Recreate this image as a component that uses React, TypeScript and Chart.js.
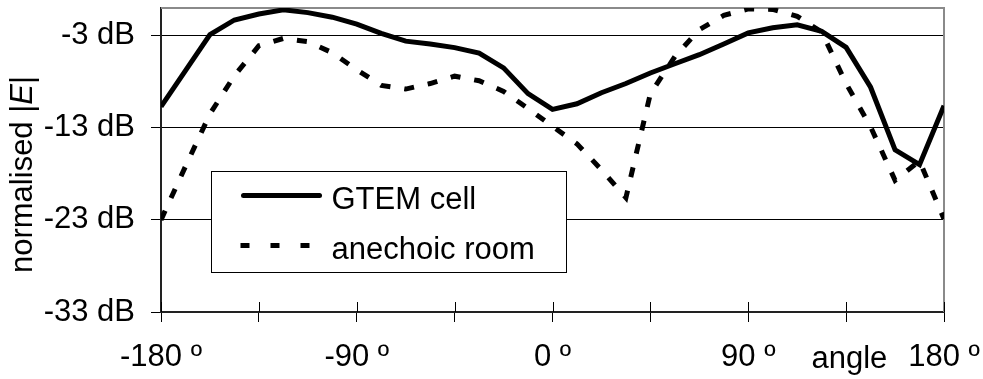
import React, { useEffect, useRef } from 'react';
import { Chart, registerables } from 'chart.js';

Chart.register(...registerables);

const angles = [
  -180, -168.75, -157.5, -146.25, -135, -123.75, -112.5, -101.25, -90, -78.75, -67.5,
  -56.25, -45, -33.75, -22.5, -11.25, 0, 11.25, 22.5, 33.75, 45, 56.25, 67.5, 78.75,
  90, 101.25, 112.5, 123.75, 135, 146.25, 157.5, 168.75, 180,
];

const gtemCell = [
  -10.7, -6.8, -2.9, -1.3, -0.65, -0.2, -0.5, -1.0, -1.75, -2.75, -3.6,
  -3.9, -4.3, -4.9, -6.5, -9.3, -11.0, -10.4, -9.2, -8.2, -7.05, -6.05, -5.07, -3.9,
  -2.7, -2.15, -1.83, -2.53, -4.27, -8.6, -15.4, -17.0, -10.6,
];

const anechoicRoom = [
  -23.0, -17.2, -11.5, -7.35, -4.1, -3.3, -3.65, -4.85, -6.7, -8.4, -8.8,
  -8.2, -7.4, -7.9, -9.05, -10.9, -12.85, -14.75, -17.55, -20.6, -9.3, -5.28, -2.35, -0.8,
  -0.1, -0.15, -0.9, -2.6, -8.2, -12.9, -18.7, -16.6, -22.9,
];

const seriesNames = ['GTEM cell', 'anechoic room'];
const yTickValues = [-33, -23, -13, -3];
const xTickValues = [-180, -135, -90, -45, 0, 45, 90, 135, 180];
const xLabelValues = [-180, -90, 0, 90, 180];
const yTitleParts = ['normalised |', 'E', '|'];
const xTitle = 'angle';

const FAMILY = '"Liberation Sans", Arial, sans-serif';

const decorPlugin = {
  id: 'decor',
  beforeDatasetsDraw(chart: any) {
    const { ctx, chartArea: ca } = chart;
    const xs = chart.scales.x;
    ctx.save();
    // gray top & right frame
    ctx.strokeStyle = '#8a8a8a';
    ctx.lineWidth = 2;
    ctx.beginPath();
    ctx.moveTo(ca.left, ca.top);
    ctx.lineTo(ca.right, ca.top);
    ctx.lineTo(ca.right, ca.bottom);
    ctx.stroke();
    // inner part of x tick marks
    ctx.strokeStyle = '#000';
    ctx.lineWidth = 1;
    xTickValues.forEach((v) => {
      const px = Math.round(xs.getPixelForValue(v)) + 0.5;
      ctx.beginPath();
      ctx.moveTo(px, ca.bottom - 10);
      ctx.lineTo(px, ca.bottom);
      ctx.stroke();
    });
    // legend box
    const bx = ca.left + 50.5;
    const by = ca.top + 163.5;
    const bw = 355;
    const bh = 101;
    ctx.fillStyle = '#fff';
    ctx.fillRect(bx, by, bw, bh);
    ctx.strokeStyle = '#000';
    ctx.lineWidth = 1;
    ctx.strokeRect(bx, by, bw, bh);
    // solid sample
    ctx.lineWidth = 5;
    ctx.lineCap = 'round';
    ctx.beginPath();
    ctx.moveTo(bx + 32, by + 24);
    ctx.lineTo(bx + 108, by + 24);
    ctx.stroke();
    // dashed sample
    ctx.lineCap = 'butt';
    ctx.setLineDash([9, 21]);
    ctx.beginPath();
    ctx.moveTo(bx + 29, by + 74);
    ctx.lineTo(bx + 102, by + 74);
    ctx.stroke();
    ctx.setLineDash([]);
    ctx.fillStyle = '#000';
    ctx.font = `31px ${FAMILY}`;
    ctx.textAlign = 'left';
    ctx.textBaseline = 'alphabetic';
    ctx.fillText(seriesNames[0], bx + 120, by + 37);
    ctx.fillText(seriesNames[1], bx + 120, by + 87.5);
    ctx.restore();
  },
  afterDraw(chart: any) {
    const { ctx, chartArea: ca } = chart;
    const xs = chart.scales.x;
    ctx.save();
    ctx.fillStyle = '#000';
    // x title "angle"
    ctx.font = `31px ${FAMILY}`;
    ctx.textAlign = 'center';
    ctx.textBaseline = 'alphabetic';
    ctx.fillText(xTitle, xs.getPixelForValue(136.5), ca.bottom + 56);
    // y title, rotated, with italic E
    const fonts = [`31px ${FAMILY}`, `italic 31px ${FAMILY}`, `31px ${FAMILY}`];
    const widths = yTitleParts.map((t, i) => {
      ctx.font = fonts[i];
      return ctx.measureText(t).width;
    });
    const total = widths.reduce((a, b) => a + b, 0);
    ctx.translate(32, 174.5);
    ctx.rotate(-Math.PI / 2);
    ctx.textAlign = 'left';
    let x = -total / 2;
    yTitleParts.forEach((t, i) => {
      ctx.font = fonts[i];
      ctx.fillText(t, x, 0);
      x += widths[i];
    });
    ctx.restore();
  },
};

export default function App() {
  const canvasRef = useRef<HTMLCanvasElement | null>(null);

  useEffect(() => {
    if (!canvasRef.current) return;
    const font = { family: FAMILY, size: 31 };
    const chart = new Chart(canvasRef.current, {
      type: 'line',
      data: {
        datasets: [
          {
            label: seriesNames[0],
            data: angles.map((a, i) => ({ x: a, y: gtemCell[i] })),
            borderColor: '#000',
            borderWidth: 5,
            pointRadius: 0,
            tension: 0,
            fill: false,
          },
          {
            label: seriesNames[1],
            data: angles.map((a, i) => ({ x: a, y: anechoicRoom[i] })),
            borderColor: '#000',
            borderWidth: 5,
            borderDash: [10, 14],
            pointRadius: 0,
            tension: 0,
            fill: false,
          },
        ],
      },
      options: {
        animation: false,
        responsive: false,
        maintainAspectRatio: false,
        layout: { padding: { left: 0, right: 39, top: 8, bottom: 0 } },
        plugins: { legend: { display: false }, tooltip: { enabled: false } },
        scales: {
          x: {
            type: 'linear',
            min: -180,
            max: 180,
            afterBuildTicks: (s: any) => {
              s.ticks = xTickValues.map((v) => ({ value: v }));
            },
            afterFit: (s: any) => {
              s.height = 67;
              s.paddingLeft = 0;
              s.paddingRight = 0;
            },
            grid: { drawOnChartArea: false, drawTicks: true, tickLength: 10, color: '#000', lineWidth: 1 },
            border: { display: true, color: '#222', width: 2 },
            ticks: {
              color: '#000',
              font,
              padding: 17,
              maxRotation: 0,
              autoSkip: false,
              callback: (v: any) => (xLabelValues.includes(Number(v)) ? `${v} º` : ''),
            },
          },
          y: {
            type: 'linear',
            min: -33,
            max: 0,
            afterBuildTicks: (s: any) => {
              s.ticks = yTickValues.map((v) => ({ value: v }));
            },
            afterFit: (s: any) => {
              s.width = 161;
              s.paddingTop = 0;
              s.paddingBottom = 0;
            },
            grid: { color: '#000', lineWidth: 1, drawTicks: true, tickLength: 10, tickColor: '#000' },
            border: { display: true, color: '#222', width: 2 },
            ticks: {
              color: '#000',
              font,
              padding: 16,
              callback: (v: any) => `${v} dB`,
            },
          },
        },
      },
      plugins: [decorPlugin],
    } as any);
    return () => chart.destroy();
  }, []);

  return (
    <div style={{ position: 'absolute', left: 0, top: 0, width: 983, height: 379, background: '#fff' }}>
      <canvas ref={canvasRef} width={983} height={379} />
    </div>
  );
}
